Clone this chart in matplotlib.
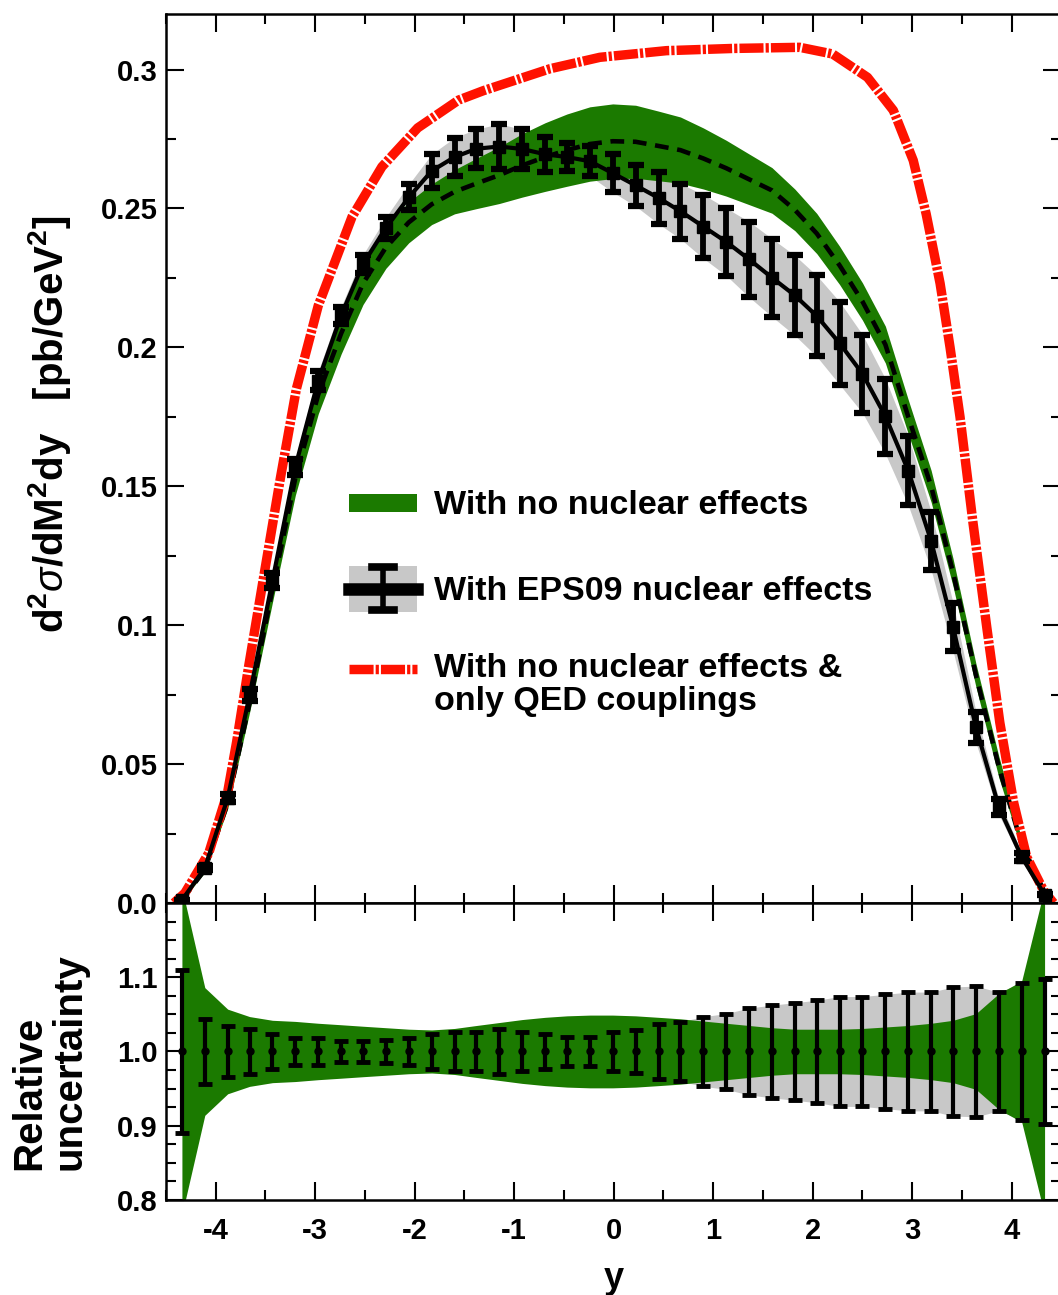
import numpy as np
import matplotlib
matplotlib.use('Agg')
import matplotlib.pyplot as plt
from matplotlib.patches import Rectangle
from matplotlib.lines import Line2D
from matplotlib.ticker import MultipleLocator

plt.rcParams['font.family'] = ['Liberation Sans', 'DejaVu Sans']
plt.rcParams['font.weight'] = 'bold'
plt.rcParams['mathtext.fontset'] = 'custom'
plt.rcParams['mathtext.rm'] = 'Liberation Sans:bold'
plt.rcParams['mathtext.bf'] = 'Liberation Sans:bold'
plt.rcParams['mathtext.it'] = 'Liberation Sans:italic:weight=normal'

GREEN = '#1b7a00'
GREY = '#c8c8c8'
RED = '#ff1200'

# rapidity bins of the EPS09 points
y_pts = [-4.34, -4.11, -3.88, -3.66, -3.43, -3.20, -2.97, -2.74, -2.52, -2.29,
         -2.06, -1.83, -1.60, -1.38, -1.15, -0.92, -0.69, -0.47, -0.24, -0.01,
         0.22, 0.45, 0.67, 0.90, 1.13, 1.36, 1.59, 1.82, 2.04, 2.27,
         2.50, 2.73, 2.96, 3.19, 3.41, 3.64, 3.87, 4.10, 4.33]

# with EPS09 nuclear effects (central value + relative error)
eps09 = [0.001, 0.0126, 0.0378, 0.0748, 0.116, 0.157, 0.188, 0.2115, 0.230, 0.243,
         0.254, 0.2635, 0.2685, 0.2715, 0.2723, 0.2714, 0.2695, 0.2685, 0.267, 0.2627,
         0.2583, 0.2538, 0.249, 0.2435, 0.238, 0.2317, 0.2251, 0.2187, 0.2113, 0.2015,
         0.1905, 0.1752, 0.1556, 0.1303, 0.0994, 0.0633, 0.0346, 0.0166, 0.003]
eps09_rel = [0.110, 0.044, 0.034, 0.030, 0.023, 0.0185, 0.018, 0.0146, 0.0146, 0.0158,
             0.0185, 0.023, 0.026, 0.026, 0.030, 0.026, 0.023, 0.019, 0.020, 0.026,
             0.029, 0.0367, 0.040, 0.047, 0.051, 0.0586, 0.0624, 0.0658, 0.069, 0.074,
             0.074, 0.077, 0.080, 0.080, 0.087, 0.088, 0.080, 0.092, 0.098]

# no nuclear effects (central value + relative band half width)
nonuc = [0.001, 0.012, 0.036, 0.072, 0.113, 0.153, 0.183, 0.205, 0.223, 0.236,
         0.245, 0.2515, 0.256, 0.259, 0.262, 0.2655, 0.2685, 0.271, 0.2732, 0.2742,
         0.274, 0.2725, 0.271, 0.268, 0.2645, 0.2605, 0.2565, 0.2495, 0.241, 0.2295,
         0.2165, 0.201, 0.175, 0.150, 0.119, 0.082, 0.049, 0.021, 0.004]
nonuc_rel = [0.22, 0.086, 0.057, 0.047, 0.042, 0.0405, 0.038, 0.036, 0.034, 0.032,
             0.030, 0.029, 0.031, 0.035, 0.039, 0.043, 0.046, 0.048, 0.049, 0.049,
             0.048, 0.046, 0.044, 0.041, 0.038, 0.035, 0.032, 0.030, 0.030, 0.030,
             0.031, 0.033, 0.035, 0.038, 0.042, 0.051, 0.078, 0.095, 0.22]

# no nuclear effects, only QED couplings
qed_y = [-4.42, -4.31, -4.07, -3.88, -3.79, -3.67, -3.52, -3.35, -3.19, -2.97,
         -2.63, -2.33, -1.97, -1.56, -1.31, -0.64, -0.14, 0.53, 1.20, 1.87,
         2.20, 2.55, 2.81, 3.01, 3.14, 3.28, 3.38, 3.48, 3.61, 3.75,
         3.88, 4.02, 4.15, 4.32, 4.42]
qed = [0.0, 0.0036, 0.018, 0.040, 0.058, 0.085, 0.117, 0.153, 0.185, 0.215,
       0.247, 0.265, 0.279, 0.289, 0.2924, 0.3003, 0.3044, 0.3068, 0.3076, 0.308,
       0.3056, 0.2972, 0.2853, 0.2673, 0.248, 0.223, 0.200, 0.175, 0.137, 0.099,
       0.065, 0.036, 0.0166, 0.0045, 0.0]

e = np.array(eps09)
re = np.array(eps09_rel)
n = np.array(nonuc)
rn = np.array(nonuc_rel)

fig = plt.figure(figsize=(10.58, 12.95), dpi=100)
ax = fig.add_axes([0.1569, 0.3027, 0.8464, 0.6865])
axr = fig.add_axes([0.1569, 0.0734, 0.8464, 0.2293], sharex=ax)

dash_nonuc = (0, (3.0, 1.9))
dash_qed = (0, (2.55, 0.22, 0.34, 0.22))

# upper panel
ax.fill_between(y_pts, e * (1 - re), e * (1 + re), color=GREY, lw=0, zorder=1)
ax.fill_between(y_pts, n * (1 - rn), n * (1 + rn), color=GREEN, lw=0, zorder=2)
ax.plot(y_pts, n, color='black', lw=3.3, ls=dash_nonuc, zorder=3)
ax.plot(qed_y, qed, color=RED, lw=6.8, ls=dash_qed, zorder=4)
ax.errorbar(y_pts, e, yerr=e * re, fmt='s-', color='black', ms=8.5, lw=3,
            elinewidth=4.2, capsize=5.5, capthick=4.5, zorder=5)

# lower panel
ones = np.ones(len(y_pts))
axr.fill_between(y_pts, 1 - re, 1 + re, color=GREY, lw=0, zorder=1)
axr.fill_between(y_pts, 1 - rn, 1 + rn, color=GREEN, lw=0, zorder=2)
axr.errorbar(y_pts, ones, yerr=re, fmt='o', color='black', ms=5,
             elinewidth=3, capsize=5, capthick=3.5, zorder=5)

ax.set_xlim(-4.5, 4.5)
ax.set_ylim(0, 0.32)
axr.set_ylim(0.8, 1.2)

ax.set_yticks([0, 0.05, 0.1, 0.15, 0.2, 0.25, 0.3],
              ['0.0', '0.05', '0.1', '0.15', '0.2', '0.25', '0.3'])
ax.yaxis.set_minor_locator(MultipleLocator(0.025))
axr.set_yticks([0.8, 0.9, 1.0, 1.1, 1.2], ['0.8', '0.9', '1.0', '1.1', ''])
axr.yaxis.set_minor_locator(MultipleLocator(0.025))
axr.set_xticks(range(-4, 5), [str(v) for v in range(-4, 5)])
axr.xaxis.set_minor_locator(MultipleLocator(0.5))

for a in (ax, axr):
    a.tick_params(which='both', direction='in', top=True, right=True,
                  width=1.5, labelsize=21, pad=6)
    a.tick_params(which='major', length=13)
    a.tick_params(which='minor', length=7)
    for s in a.spines.values():
        s.set_linewidth(1.8)
ax.tick_params(labelbottom=False)
axr.tick_params(axis='x', pad=12)

ax.set_ylabel(r'd$^{2}\sigma$/dM$^{2}$dy   [pb/GeV$^{2}$]', fontsize=29,
              fontweight='bold')
ax.yaxis.set_label_coords(-0.104, 0.539)
axr.set_ylabel('Relative\nuncertainty', fontsize=29, fontweight='bold',
               multialignment='left', linespacing=1.05)
axr.yaxis.set_label_coords(-0.087, 0.466)
axr.set_xlabel('y', fontsize=26, fontweight='bold', labelpad=12)


class GreenHandler:
    def legend_artist(self, legend, orig_handle, fontsize, handlebox):
        x0, y0 = -handlebox.xdescent, -handlebox.ydescent
        w, h = handlebox.width, handlebox.height
        r = Rectangle((x0, y0 + 0.31 * h), w, 0.38 * h, facecolor=GREEN,
                      edgecolor='none', transform=handlebox.get_transform())
        handlebox.add_artist(r)
        return r


class EpsHandler:
    def legend_artist(self, legend, orig_handle, fontsize, handlebox):
        x0, y0 = -handlebox.xdescent, -handlebox.ydescent
        w, h = handlebox.width, handlebox.height
        t = handlebox.get_transform()
        r = Rectangle((x0, y0), w, h, facecolor=GREY, edgecolor='none', transform=t)
        handlebox.add_artist(r)
        xm = x0 + w / 2
        handlebox.add_artist(Line2D([x0, x0 + w], [y0 + h / 2] * 2, lw=9,
                                    color='black', transform=t))
        handlebox.add_artist(Line2D([xm, xm], [y0 + 0.04 * h, y0 + 0.98 * h], lw=4,
                                    color='black', transform=t))
        for yc in (y0 + 0.04 * h, y0 + 0.98 * h):
            handlebox.add_artist(Line2D([xm - 8, xm + 8], [yc, yc], lw=5.5,
                                        color='black', transform=t))
        return r


class QedHandler:
    def legend_artist(self, legend, orig_handle, fontsize, handlebox):
        x0, y0 = -handlebox.xdescent, -handlebox.ydescent
        w, h = handlebox.width, handlebox.height
        ln = Line2D([x0, x0 + w], [y0 + h / 2 + 12] * 2, lw=6.8, ls=dash_qed,
                    color=RED, transform=handlebox.get_transform())
        handlebox.add_artist(ln)
        return ln


h1, h2, h3 = object(), object(), object()
leg = ax.legend([h1, h2, h3],
                ['With no nuclear effects', 'With EPS09 nuclear effects',
                 'With no nuclear effects &\nonly QED couplings'],
                handler_map={h1: GreenHandler(), h2: EpsHandler(), h3: QedHandler()},
                loc='upper left', bbox_to_anchor=(0.2044, 0.476), frameon=False,
                borderpad=0, borderaxespad=0, handlelength=2.0, handleheight=1.7,
                handletextpad=0.5, labelspacing=1.19,
                prop={'size': 24.5, 'weight': 'bold'})
leg.get_texts()[2].set_linespacing(1.1)

fig.savefig('out.png', dpi=100)
